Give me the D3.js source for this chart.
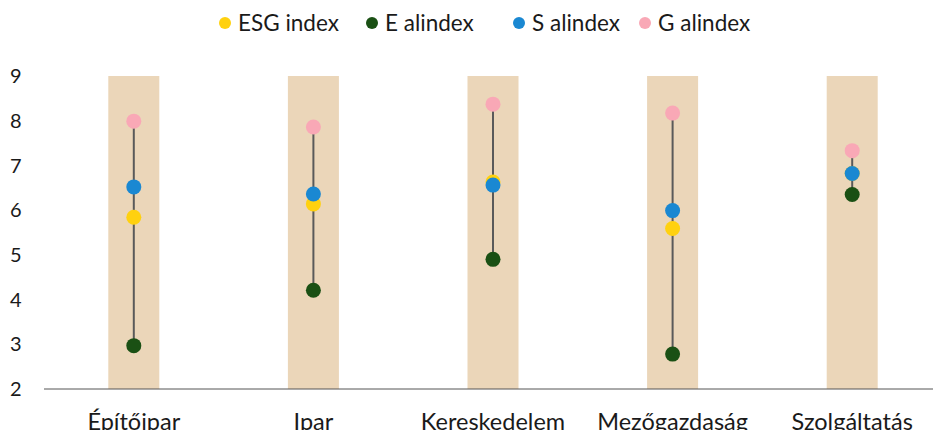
<!DOCTYPE html>
<html><head><meta charset="utf-8">
<script src="https://cdn.jsdelivr.net/npm/d3@7"></script>
<style>body{margin:0;background:#fff}svg{display:block}text{font-family:Lato,"Open Sans",sans-serif;fill:#1a1a1a}</style>
</head><body><svg id="c" width="933" height="430"></svg>
<script>
const categories = ["Építőipar","Ipar","Kereskedelem","Mezőgazdaság","Szolgáltatás"];
const esg = [5.84, 6.14, 6.63, 5.59, 6.82];
const eSub = [2.97, 4.21, 4.90, 2.78, 6.35];
const sSub = [6.52, 6.36, 6.56, 5.99, 6.82];
const gSub = [7.99, 7.86, 8.37, 8.17, 7.33];
const yTicks = [2,3,4,5,6,7,8,9];
const seriesNames = ["ESG index","E alindex","S alindex","G alindex"];
const seriesColors = ["#ffd10f","#1a5014","#1a88d2","#f9a8b6"];
const seriesValues = [esg, eSub, sSub, gSub];

const svg = d3.select("#c");
const x = d3.scaleBand().domain(categories).range([44, 942]).paddingInner(0.716).paddingOuter(0.358);
const y = d3.scaleLinear().domain([2, 9]).range([389, 76]);

// bars
svg.append("g").selectAll("rect").data(categories).join("rect")
  .attr("x", d => x(d)).attr("width", x.bandwidth())
  .attr("y", y(9)).attr("height", y(2) - y(9))
  .attr("fill", "#ebd6b9");

// baseline
svg.append("line").attr("x1", 44).attr("x2", 933).attr("y1", y(2)).attr("y2", y(2))
  .attr("stroke", "#555").attr("stroke-width", 1);

// y tick labels
svg.append("g").selectAll("text").data(yTicks).join("text")
  .attr("x", 10).attr("y", d => y(d)).attr("dy", "0.36em")
  .attr("font-size", 20).text(d => d);

// x labels
svg.append("g").selectAll("text").data(categories).join("text")
  .attr("x", d => x(d) + x.bandwidth()/2).attr("y", 430)
  .attr("text-anchor", "middle").attr("font-size", 23.5).text(d => d);

// range lines
svg.append("g").selectAll("line").data(categories).join("line")
  .attr("x1", d => x(d) + x.bandwidth()/2).attr("x2", d => x(d) + x.bandwidth()/2)
  .attr("y1", (d,i) => y(d3.max(seriesValues, s => s[i])))
  .attr("y2", (d,i) => y(d3.min(seriesValues, s => s[i])))
  .attr("stroke", "#5a5a5a").attr("stroke-width", 2);

// dots
seriesValues.forEach((vals, si) => {
  svg.append("g").selectAll("circle").data(categories).join("circle")
    .attr("cx", d => x(d) + x.bandwidth()/2)
    .attr("cy", (d,i) => y(vals[i]))
    .attr("r", 7.5).attr("fill", seriesColors[si]);
});

// legend
const legendX = [225, 372, 519, 645];
const lg = svg.append("g");
seriesNames.forEach((n, i) => {
  lg.append("circle").attr("cx", legendX[i]).attr("cy", 23).attr("r", 6).attr("fill", seriesColors[i]);
  lg.append("text").attr("x", legendX[i] + 13).attr("y", 23).attr("dy", "0.35em")
    .attr("font-size", 22.5).text(n);
});
</script></body></html>
